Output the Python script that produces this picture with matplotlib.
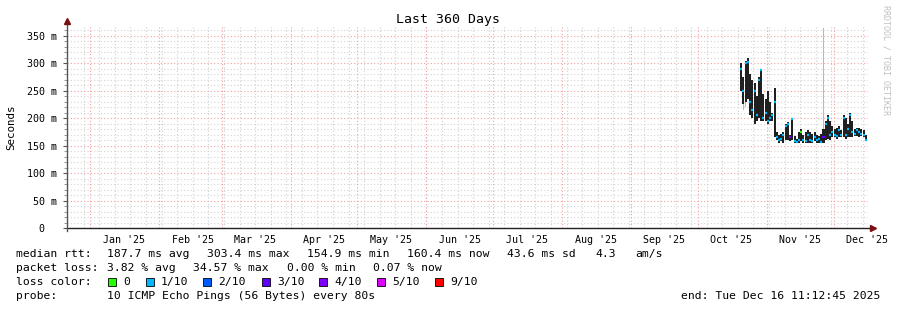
#Import packages
import numpy as np
import matplotlib
matplotlib.use('Agg')
import matplotlib.pyplot as plt
from matplotlib.patches import Rectangle

#Chart data (ms), one value per day, first day = Oct 19 2025
first_day = 303
rtt_lo = [250, 225, 230, 235, 205, 200, 190, 195, 200, 195, 195, 195, 190, 195, 195, 165,
          160, 155, 158, 155, 160, 160, 158, 160, 155, 155, 155, 158, 155, 155, 155, 155,
          155, 158, 155, 155, 155, 155, 160, 162, 160, 165, 165, 163, 165, 165, 165, 162,
          165, 165, 165, 168, 168, 165, 168, 165, 158]
rtt_hi = [300, 275, 305, 310, 280, 270, 265, 240, 275, 290, 245, 235, 250, 230, 210, 255,
          175, 170, 172, 175, 190, 193, 170, 200, 168, 162, 175, 180, 170, 175, 178, 175,
          172, 175, 170, 168, 172, 180, 195, 205, 195, 185, 180, 182, 185, 178, 205, 200,
          190, 210, 195, 180, 182, 183, 180, 178, 170]
rtt_med = [290, 250, 300, 303, 230, 215, 250, 205, 270, 288, 200, 210, 195, 200, 205, 230,
           165, 160, 162, 170, 185, 190, 165, 198, 158, 157, 160, 175, 160, 158, 170, 160,
           158, 165, 160, 162, 157, 165, 190, 200, 170, 175, 170, 168, 178, 170, 200, 170,
           180, 205, 175, 172, 178, 175, 172, 170, 160]
loss_idx = [1, 1, 1, 1, 1, 1, 1, 1, 1, 1, 1, 1, 1, 1, 1, 1,
            1, 1, 1, 1, 1, 1, 4, 1, 1, 1, 1, 0, 1, 1, 1, 1,
            1, 1, 1, 1, 1, 3, 1, 1, 1, 1, 1, 1, 1, 1, 1, 1,
            1, 1, 1, 1, 1, 1, 1, 1, 1]

#Light gray smoke outliers
outlier_day = [304, 305, 340]
outlier_lo = [215, 220, 170]
outlier_hi = [250, 255, 365]

#Legend
loss_labels = ['0', '1/10', '2/10', '3/10', '4/10', '5/10', '9/10']
loss_colors = ['#26ff00', '#00b8ff', '#0059ff', '#5e00ff', '#7e00ff', '#dd00ff', '#ff0000']
month_labels = ["Jan '25", "Feb '25", "Mar '25", "Apr '25", "May '25", "Jun '25",
                "Jul '25", "Aug '25", "Sep '25", "Oct '25", "Nov '25", "Dec '25"]

W, H = 897, 310
MONO = 'DejaVu Sans Mono'


def P(x, y):
	return x / W, 1 - y / H


def main():
	start = np.datetime64('2024-12-21T11:12:45')

	def day(d):
		return (np.datetime64(d) - start) / np.timedelta64(1, 'D')

	fig = plt.figure(figsize=(W / 100, H / 100), dpi=100)
	ax = fig.add_axes([67 / W, 82 / H, 801 / W, 202 / H])
	ax.set_xlim(0, 360)
	ax.set_ylim(0, 368)

	#Grid
	for v in range(10, 368, 10):
		if v % 50 == 0:
			ax.axhline(v, color='#f2a0a0', lw=0.8, ls=(0, (1, 2)), zorder=1)
		else:
			ax.axhline(v, color='#d4d4d4', lw=0.8, ls=(0, (1, 2)), zorder=0)
	sunday = np.datetime64('2024-12-29')
	while sunday < np.datetime64('2025-12-17'):
		ax.axvline(day(sunday), color='#d0d0d0', lw=0.8, ls=(0, (1, 2)), zorder=0)
		sunday = sunday + np.timedelta64(7, 'D')
	for m in range(1, 13):
		ax.axvline(day('2025-%02d-01' % m), color='#f2a0a0', lw=0.8, ls=(0, (1, 2)), zorder=1)

	#Smoke
	days = first_day + np.arange(len(rtt_lo))
	lo = np.array(rtt_lo)
	hi = np.array(rtt_hi)
	ax.bar(outlier_day, np.array(outlier_hi) - np.array(outlier_lo), bottom=outlier_lo,
	       width=0.45, color='#b8b8b8', lw=0, zorder=2)
	ax.bar(days, hi - lo, bottom=lo, width=0.9, color='#202020', lw=0, zorder=3)

	#Median coloured by loss
	for d, m, li in zip(days, rtt_med, loss_idx):
		ax.hlines(m, d - 0.45, d + 0.45, color=loss_colors[li], lw=1.6, zorder=4)

	#Axes
	for s in ['top', 'right', 'left', 'bottom']:
		ax.spines[s].set_visible(False)
	ax.set_yticks(range(0, 351, 50))
	ax.set_yticklabels(['0  '] + ['%d m' % v for v in range(50, 351, 50)],
	                   fontfamily=MONO, fontsize=7.2)
	ax.set_yticks(range(0, 368, 10), minor=True)
	ax.tick_params(axis='y', which='major', length=3, width=0.8, color='#555555', pad=4)
	ax.tick_params(axis='y', which='minor', length=2, width=0.6, color='#888888')
	mids = [day('2025-%02d-16' % m) for m in range(1, 13)]
	ax.set_xticks(mids)
	ax.set_xticklabels(month_labels, fontfamily=MONO, fontsize=7.2)
	ax.tick_params(axis='x', which='major', length=0, pad=5)

	#Axis lines with arrows
	fig.add_artist(plt.Line2D([67 / W, 872 / W], [1 - 228 / H] * 2, color='#222222', lw=1.0))
	fig.add_artist(plt.Line2D([67 / W] * 2, [1 - 231 / H, 1 - 22 / H], color='#555555', lw=1.0))
	fig.add_artist(plt.Line2D([873 / W], [1 - 228 / H], marker='>', ms=4.5,
	                          color='#7a1010', lw=0))
	fig.add_artist(plt.Line2D([67 / W], [1 - 21 / H], marker='^', ms=4.5,
	                          color='#7a1010', lw=0))

	#Titles
	fig.text(*P(448, 19), 'Last 360 Days', fontfamily=MONO, fontsize=9.5,
	         ha='center', va='center')
	fig.text(*P(11, 127), 'Seconds', fontfamily=MONO, fontsize=7.8, rotation=90,
	         ha='center', va='center')
	fig.text(*P(886, 60), 'RRDTOOL / TOBI OETIKER', fontfamily=MONO, fontsize=6.0,
	         rotation=270, ha='center', va='center', color='#c0c0c0')

	#Legend rows
	fs = 8.2
	rows = [
		(254, [(16, 'median rtt:'), (107, '187.7 ms avg'), (207, '303.4 ms max'),
		       (307, '154.9 ms min'), (407, '160.4 ms now'), (507, '43.6 ms sd'),
		       (595, '4.3'), (635, 'am/s')]),
		(268, [(16, 'packet loss:'), (107, '3.82 % avg'), (193, '34.57 % max'),
		       (287, '0.00 % min'), (373, '0.07 % now')]),
		(282, [(16, 'loss color:')]),
		(296, [(16, 'probe:'), (107, '10 ICMP Echo Pings (56 Bytes) every 80s')]),
	]
	for y, items in rows:
		for x, s in items:
			fig.text(*P(x, y), s, fontfamily=MONO, fontsize=fs, ha='left', va='center')
	box_x = [108, 146, 203, 262, 319, 377, 435]
	for bx, lab, col in zip(box_x, loss_labels, loss_colors):
		fig.add_artist(Rectangle(P(bx, 286), 8 / W, 8 / H, facecolor=col,
		                         edgecolor='black', lw=0.6))
		fig.text(*P(bx + 15, 282), lab, fontfamily=MONO, fontsize=fs, ha='left', va='center')
	fig.text(*P(880, 296), 'end: Tue Dec 16 11:12:45 2025', fontfamily=MONO, fontsize=fs,
	         ha='right', va='center')

	fig.savefig('out.png', dpi=100, facecolor='white')


#Execute main script
if __name__ == '__main__':
	main()
